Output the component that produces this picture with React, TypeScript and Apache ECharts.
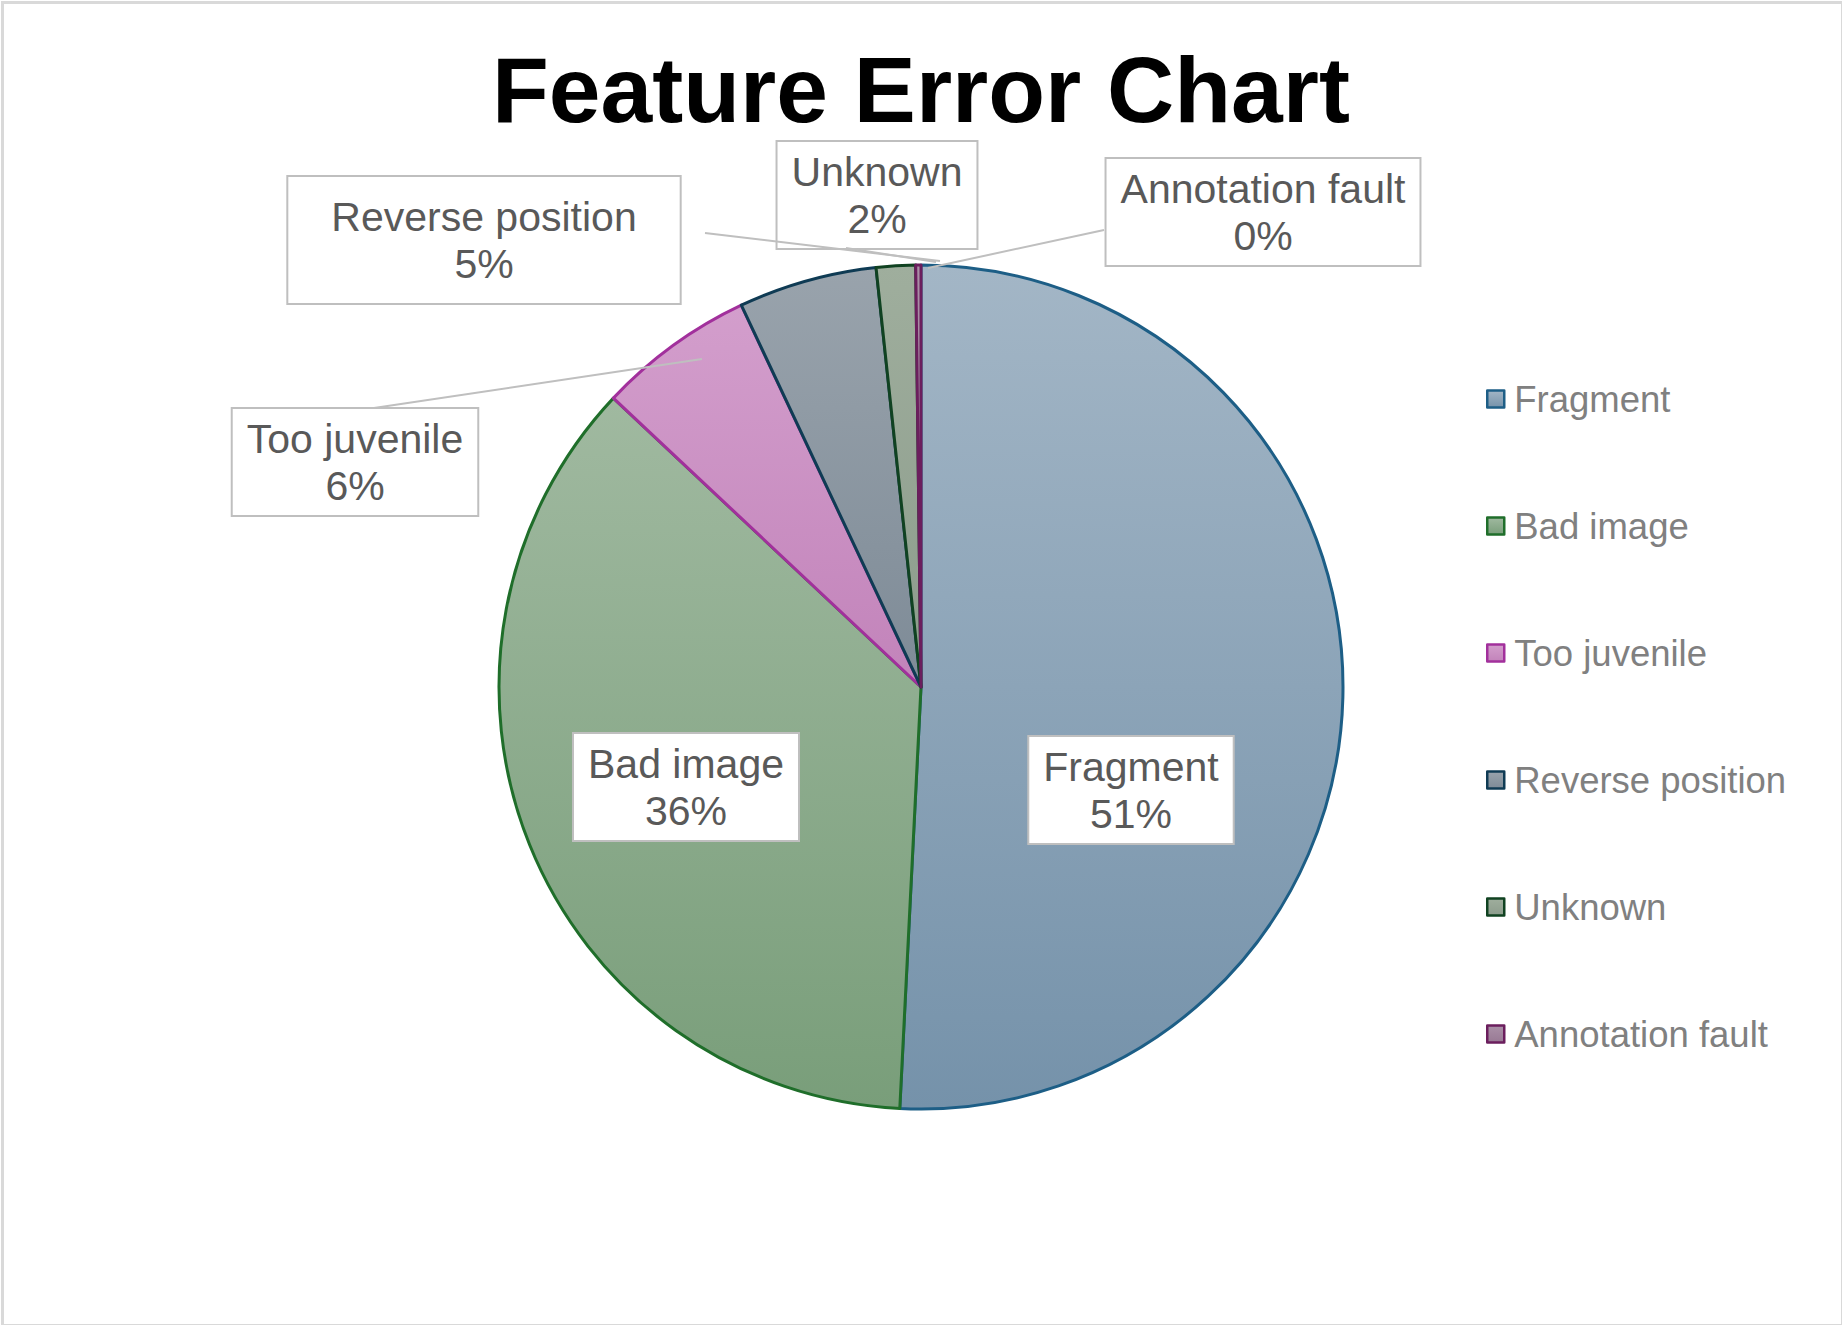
import React, { useEffect, useRef } from "react";
import * as echarts from "echarts";

const categories = ["Fragment", "Bad image", "Too juvenile", "Reverse position", "Unknown", "Annotation fault"];
const values = [50.8, 36.2, 6.0, 5.3, 1.5, 0.2];
const topColors = ["#a3b6c6", "#a0b9a0", "#d39ecc", "#99a3ac", "#9fae9d", "#aa90a7"];
const bottomColors = ["#7592aa", "#799e7a", "#c283ba", "#7e8b97", "#8c9c8c", "#987994"];
const borderColors = ["#1d5e86", "#1f6e2a", "#a2309c", "#0f3b54", "#104221", "#6b1e5d"];

// label box centres (layout) and leader lines (label annotations, drawn above the pie)
const labelCenters: number[][] = [
  [1131, 790],
  [686, 787],
  [355, 462],
  [484, 240],
  [877, 195],
  [1263, 212],
];
const leaderLines: (number[][] | null)[] = [
  null,
  null,
  [[702, 359], [374, 408]],
  [[940, 261], [705, 233]],
  [[936, 262], [846, 248]],
  [[928, 268], [1104, 230]],
];

export default function App() {
  const ref = useRef<HTMLDivElement>(null);
  useEffect(() => {
    document.body.style.margin = "0";
    if (!ref.current) return;
    const chart = echarts.init(ref.current, null, { renderer: "svg" });
    const total = values.reduce((a, b) => a + b, 0);
    const data = categories.map((name, i) => ({
      name,
      value: values[i],
      itemStyle: {
        color: new echarts.graphic.LinearGradient(0, 0, 0, 1, [
          { offset: 0, color: topColors[i] },
          { offset: 1, color: bottomColors[i] },
        ]),
        borderColor: borderColors[i],
        borderWidth: 3,
      },
      label: i === 3 ? { padding: [16, 43, 16, 43] } : undefined,
    }));
    const lineGraphics = leaderLines
      .filter((l) => l !== null)
      .map((pts) => ({
        type: "polyline",
        z: 100,
        silent: true,
        shape: { points: pts },
        style: { stroke: "#bfbfbf", lineWidth: 2, fill: "none" },
      }));
    chart.setOption({
      animation: false,
      backgroundColor: "#ffffff",
      title: {
        text: "Feature Error Chart",
        left: "center",
        top: 38,
        textStyle: {
          fontFamily: "Liberation Sans, Arial, sans-serif",
          fontSize: 93,
          fontWeight: "bold",
          color: "#000000",
        },
      },
      legend: {
        orient: "vertical",
        left: 1481,
        top: 374,
        icon: "rect",
        itemWidth: 17,
        itemHeight: 17,
        itemGap: 87,
        selectedMode: false,
        itemStyle: { borderWidth: 2.5 },
        textStyle: {
          fontFamily: "Liberation Sans, Arial, sans-serif",
          fontSize: 36.5,
          lineHeight: 40,
          color: "#808080",
          padding: [0, 0, 0, 5],
        },
        data: categories,
      },
      graphic: [
        {
          type: "rect",
          left: 0,
          top: 0,
          shape: { x: 0, y: 0, width: 1840, height: 1323 },
          style: { fill: "none", stroke: "#d9d9d9", lineWidth: 3 },
          silent: true,
        },
        ...lineGraphics,
      ],
      series: [
        {
          type: "pie",
          center: [921, 687],
          radius: 422,
          startAngle: 90,
          clockwise: true,
          emphasis: { disabled: true },
          label: {
            show: true,
            position: "outside",
            formatter: (p: any) => `${p.name}\n${Math.round((p.value / total) * 100)}%`,
            fontFamily: "Liberation Sans, Arial, sans-serif",
            fontSize: 41,
            lineHeight: 47,
            color: "#595959",
            backgroundColor: "#ffffff",
            borderColor: "#bfbfbf",
            borderWidth: 2,
            padding: [6, 14, 6, 14],
            align: "center",
          },
          labelLine: { show: false },
          labelLayout: (params: any) => {
            const c = labelCenters[params.dataIndex];
            return { x: c[0], y: c[1], align: "center", verticalAlign: "middle" };
          },
          data,
        },
      ],
    });
    return () => chart.dispose();
  }, []);
  return <div ref={ref} style={{ width: 1842, height: 1325 }} />;
}
